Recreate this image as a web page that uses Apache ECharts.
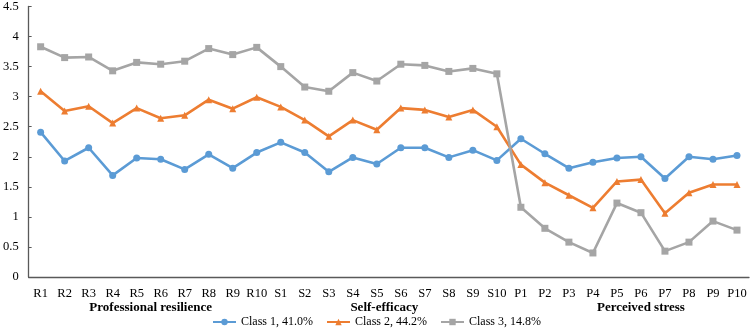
<!DOCTYPE html>
<html>
<head>
<meta charset="utf-8">
<script src="https://cdn.jsdelivr.net/npm/echarts@6/dist/echarts.min.js"></script>
<style>
    html, body { margin: 0; padding: 0; background: #fff; }
    #chart { width: 753px; height: 328px; }
</style>
</head>
<body>
<div id="chart"></div>
<script>
var items = ['R1','R2','R3','R4','R5','R6','R7','R8','R9','R10',
    'S1','S2','S3','S4','S5','S6','S7','S8','S9','S10',
    'P1','P2','P3','P4','P5','P6','P7','P8','P9','P10'];
var groups = ['Professional resilience', 'Self-efficacy', 'Perceived stress'];

var class1 = [2.41, 1.93, 2.15, 1.69, 1.98, 1.96, 1.79, 2.04, 1.81, 2.07,
    2.24, 2.07, 1.75, 1.99, 1.88, 2.15, 2.15, 1.99, 2.11, 1.94,
    2.30, 2.05, 1.81, 1.91, 1.98, 2.00, 1.64, 2.00, 1.96, 2.02];
var class2 = [3.09, 2.76, 2.84, 2.56, 2.81, 2.64, 2.69, 2.95, 2.80, 2.99,
    2.83, 2.61, 2.34, 2.61, 2.45, 2.81, 2.78, 2.66, 2.78, 2.50,
    1.87, 1.57, 1.36, 1.15, 1.59, 1.62, 1.06, 1.40, 1.54, 1.54];
var class3 = [3.83, 3.65, 3.66, 3.43, 3.57, 3.54, 3.59, 3.80, 3.70, 3.82,
    3.50, 3.16, 3.09, 3.40, 3.26, 3.54, 3.52, 3.42, 3.47, 3.38,
    1.16, 0.81, 0.58, 0.40, 1.23, 1.07, 0.43, 0.58, 0.93, 0.78];

var serif = 'Liberation Serif';

function makeSeries(name, data, color, symbol) {
    return {
        name: name,
        type: 'line',
        data: data,
        symbol: symbol,
        symbolSize: 7,
        showSymbol: true,
        lineStyle: { width: 2.6, color: color },
        itemStyle: { color: color },
        emphasis: { disabled: true }
    };
}

// group titles sit a little off-centre in the original, nudge them with padding
var groupData = [
    { value: groups[0], textStyle: { padding: [0, 0, 0, 4] } },
    { value: groups[1], textStyle: { padding: [0, 9, 0, 0] } },
    { value: groups[2], textStyle: { padding: [0, 0, 0, 24] } }
];

var chart = echarts.init(document.getElementById('chart'));

var option = {
    animation: false,
    grid: { left: 26, right: 4, top: 5, bottom: 51, containLabel: false },
    legend: {
        bottom: 0,
        left: 'center',
        padding: [0, 0, 0, 0],
        itemWidth: 23,
        itemHeight: 8,
        itemGap: 13,
        textStyle: { fontFamily: serif, fontSize: 12, color: '#000' },
        data: ['Class 1, 41.0%', 'Class 2, 44.2%', 'Class 3, 14.8%']
    },
    xAxis: [
        {
            type: 'category',
            data: items,
            boundaryGap: true,
            axisLine: { lineStyle: { color: '#595959', width: 1.3 } },
            axisTick: { alignWithLabel: true, inside: true, length: 3, lineStyle: { color: '#595959' } },
            axisLabel: { fontFamily: serif, fontSize: 12.5, color: '#000', margin: 10, interval: 0 }
        },
        {
            type: 'category',
            data: groupData,
            position: 'bottom',
            offset: 22,
            axisLine: { show: false },
            axisTick: { show: false },
            axisLabel: { fontFamily: serif, fontSize: 13, fontWeight: 'bold', color: '#000', margin: 2, interval: 0 }
        }
    ],
    yAxis: {
        type: 'value',
        min: 0,
        max: 4.5,
        interval: 0.5,
        splitLine: { show: false },
        axisLine: { show: true, lineStyle: { color: '#595959', width: 1.3 } },
        axisTick: { show: true, inside: true, length: 3, lineStyle: { color: '#595959' } },
        axisLabel: { fontFamily: serif, fontSize: 12.5, color: '#000', margin: 10 }
    },
    series: [
        makeSeries('Class 1, 41.0%', class1, '#5B9BD5', 'circle'),
        makeSeries('Class 2, 44.2%', class2, '#ED7D31', 'triangle'),
        makeSeries('Class 3, 14.8%', class3, '#A5A5A5', 'rect')
    ]
};

chart.setOption(option);
</script>
</body>
</html>
